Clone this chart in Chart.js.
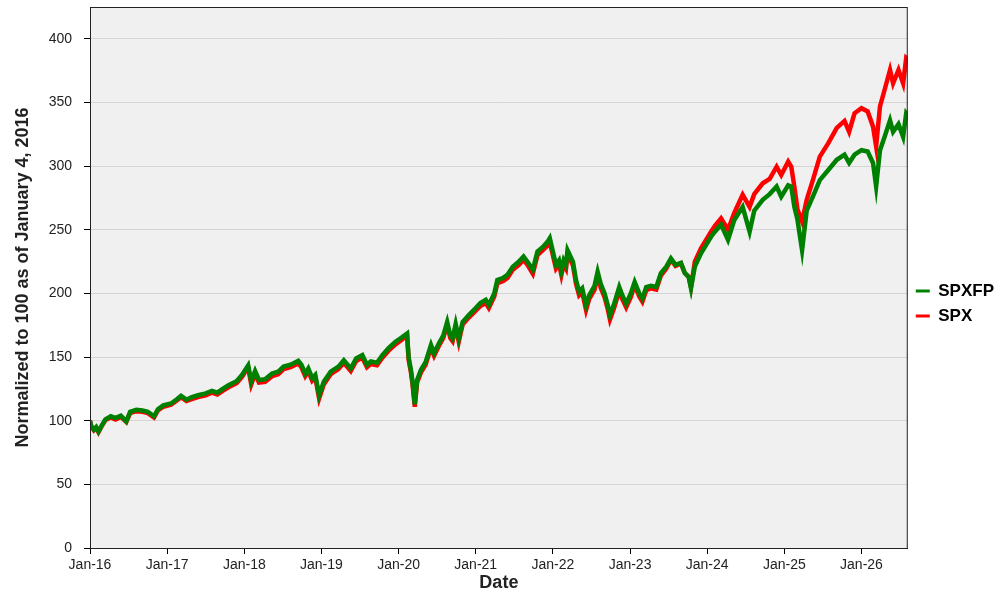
<!DOCTYPE html>
<html>
<head>
<meta charset="utf-8">
<script src="https://cdn.jsdelivr.net/npm/chart.js@4"></script>
<style>
  html, body { margin:0; padding:0; background:#fff; }
  #wrap { width:1000px; height:600px; }
</style>
</head>
<body>
<div id="wrap"><canvas id="chart" width="1000" height="600"></canvas></div>
<script>
// time in years since Jan 4, 2016
const yearsSince2016 = [
  0, 0.015, 0.05, 0.08, 0.11, 0.15, 0.20, 0.27, 0.33, 0.40, 0.47, 0.52, 0.60, 0.68, 0.75, 0.83, 0.88, 0.95,
  1.05, 1.13, 1.18, 1.25, 1.32, 1.40, 1.50, 1.58, 1.65, 1.72, 1.80, 1.90, 1.97,
  2.05, 2.09, 2.14, 2.19, 2.27, 2.36, 2.44, 2.51, 2.60, 2.70, 2.74, 2.79, 2.83, 2.88, 2.92, 2.97,
  3.03, 3.12, 3.22, 3.29, 3.38, 3.45, 3.53, 3.59, 3.64, 3.72, 3.79, 3.87, 3.96,
  4.03, 4.11, 4.13, 4.16, 4.18, 4.21, 4.24, 4.29, 4.35, 4.42, 4.46, 4.52, 4.58, 4.63, 4.67, 4.70, 4.74, 4.78, 4.83, 4.91,
  5.00, 5.06, 5.13, 5.17, 5.24, 5.28, 5.35, 5.41, 5.48, 5.56, 5.62, 5.68, 5.74, 5.80, 5.87, 5.93, 5.96,
  6.00, 6.04, 6.08, 6.11, 6.14, 6.17, 6.19, 6.26, 6.30, 6.34, 6.38, 6.43, 6.47, 6.54, 6.58, 6.62, 6.67, 6.71, 6.74, 6.79, 6.86, 6.90, 6.95,
  7.01, 7.06, 7.12, 7.16, 7.21, 7.27, 7.34, 7.40, 7.47, 7.53, 7.59, 7.66, 7.71, 7.76, 7.79, 7.84, 7.92,
  8.05, 8.10, 8.18, 8.27, 8.35, 8.46, 8.55, 8.61, 8.72, 8.81, 8.90, 8.96,
  9.05, 9.09, 9.13, 9.17, 9.23, 9.29, 9.37, 9.46, 9.57, 9.68, 9.78, 9.84, 9.91,
  10.00, 10.08, 10.15, 10.19, 10.24, 10.30, 10.37, 10.41, 10.48, 10.54, 10.58, 10.60
];

const spxfpValues = [
  100, 96, 93, 95, 91.5, 96, 101, 103.5, 102, 104, 99.5, 107, 108.5, 108, 107, 103.5, 109, 112,
  113.5, 117, 119.5, 116.5, 118.5, 120, 121.5, 123.5, 122, 125, 128, 131, 136,
  143.5, 131, 139, 132, 132.5, 137, 138.5, 142.5, 144, 147, 144, 137, 141, 133.5, 136, 120,
  130.5, 138.5, 142.5, 147.5, 141, 149, 151.5, 144, 146.5, 145.5, 151.5, 157, 162,
  165, 168.5, 150, 140, 131, 113, 132, 140, 146, 159.5, 153, 160.5, 167, 177.5, 167, 164.5, 176, 164.5, 177.5, 183,
  188.5, 192.5, 195, 191, 200, 210.5, 212, 214.5, 221, 225, 229, 224, 218.5, 233, 236.5, 240.5, 243.5,
  233, 222.5, 226, 217.5, 226, 222.5, 234, 225, 210.5, 201.5, 204, 190.5, 198.5, 206, 217, 207.5, 200, 191, 183, 191, 205, 198.5, 192,
  200, 209, 200, 196, 205, 206, 205, 216, 221, 227.5, 222.5, 224, 216, 213, 204, 221, 231.5,
  244.5, 248.5, 254, 242, 257.5, 268, 248.5, 265, 273.5, 278, 284, 276,
  285, 284, 268, 258, 234, 265, 276, 289, 297, 305, 309, 302.5, 309,
  312.5, 311.5, 302.5, 284, 312.5, 323, 336, 327, 333, 323, 341.5, 340
];

const spxValues = [
  100, 95.5, 92.5, 94.5, 91, 95.5, 100.5, 102.5, 101, 103, 99, 106, 107.5, 107, 106, 102.5, 108, 111,
  112.5, 116, 118.5, 115.5, 117, 118.5, 120, 122, 120.5, 123.5, 126.5, 129.5, 134.5,
  142, 128.5, 137, 130, 130.5, 135, 136.5, 140.5, 142, 145, 142, 135, 139, 131.5, 134, 117.5,
  128.5, 136.5, 140.5, 145.5, 139, 147, 149.5, 142, 144.5, 143.5, 149.5, 155, 160,
  163, 167, 148, 138, 129, 111, 130, 138, 144, 157.5, 151, 158.5, 165, 175.5, 165, 162.5, 174, 162, 175.5, 181,
  186.5, 190, 192.5, 188.5, 197.5, 208, 209.5, 212, 218.5, 222.5, 226.5, 221.5, 215.5, 230, 234, 237.5, 240,
  230, 219.5, 223, 214.5, 223, 219.5, 231, 222, 207.5, 198.5, 201, 187, 195.5, 203, 214, 204.5, 197, 188, 179.5, 188, 202, 195.5, 189,
  197, 206.5, 197.5, 193.5, 202.5, 204, 203, 214, 219.5, 226.5, 221.5, 223.5, 216, 213, 205, 225, 235.5,
  248.5, 253, 259, 250, 263, 277.5, 268, 278, 286.5, 290, 299.5, 293,
  303.5, 299.5, 284, 266, 256.5, 273.5, 289, 307.5, 318, 330, 335.5, 327, 341.5,
  345.5, 343, 331, 315.5, 347, 360, 375.5, 365, 375.5, 365, 385, 384
];

const tickLabels = ['Jan-16','Jan-17','Jan-18','Jan-19','Jan-20','Jan-21','Jan-22','Jan-23','Jan-24','Jan-25','Jan-26'];

const FONT = "'Liberation Sans', Arial, sans-serif";

// plot background + frame
const plotFrame = {
  id: 'plotFrame',
  beforeDraw(chart) {
    const {ctx, chartArea: a} = chart;
    ctx.save();
    ctx.fillStyle = '#f0f0f0';
    ctx.fillRect(a.left, a.top, a.right - a.left, a.bottom - a.top);
    ctx.restore();
  },
  afterDraw(chart) {
    const {ctx, chartArea: a} = chart;
    ctx.save();
    ctx.strokeStyle = '#222';
    ctx.lineWidth = 1;
    ctx.strokeRect(a.left + 0.5, a.top + 0.5, a.right - a.left - 1, a.bottom - a.top);
    ctx.restore();
  }
};

const toPoints = vals => yearsSince2016.map((x, i) => ({x, y: vals[i]}));

new Chart(document.getElementById('chart'), {
  type: 'line',
  data: {
    datasets: [
      { label: 'SPXFP', data: toPoints(spxfpValues), borderColor: '#008000', backgroundColor: '#008000', borderWidth: 4.5 },
      { label: 'SPX', data: toPoints(spxValues), borderColor: '#ff0000', backgroundColor: '#ff0000', borderWidth: 4.5 }
    ]
  },
  options: {
    responsive: false,
    animation: false,
    elements: { point: { radius: 0 }, line: { tension: 0, borderJoinStyle: 'miter' } },
    layout: { padding: { top: 7, right: -4, bottom: 0, left: 0 } },
    plugins: {
      tooltip: { enabled: false },
      legend: {
        position: 'right',
        labels: {
          usePointStyle: true,
          pointStyle: 'line',
          pointStyleWidth: 14,
          padding: 8,
          color: '#222',
          font: { family: FONT, size: 17, weight: 'bold' },
          generateLabels(chart) {
            return chart.data.datasets.map((d, i) => ({
              text: d.label, strokeStyle: d.borderColor, fillStyle: d.borderColor,
              lineWidth: 3, pointStyle: 'line', datasetIndex: i, hidden: false
            }));
          }
        }
      }
    },
    scales: {
      x: {
        type: 'linear',
        min: 0,
        max: 10.6,
        afterFit(scale) { scale.height = 52; },
        grid: { drawOnChartArea: false, tickLength: 6, tickColor: '#000' },
        border: { color: '#000', width: 1 },
        ticks: {
          stepSize: 1,
          includeBounds: false,
          autoSkip: false,
          maxRotation: 0,
          padding: 3,
          color: '#222',
          font: { family: FONT, size: 14 },
          callback: v => tickLabels[v] || ''
        },
        title: {
          display: true,
          text: 'Date',
          color: '#222',
          font: { family: FONT, size: 18, weight: 'bold' },
          padding: { top: 0, bottom: 6 }
        }
      },
      y: {
        min: 0,
        max: 425,
        afterFit(scale) {
          scale.width = 90;
          // labels never reach the top edge, so no extra room is needed
          scale.paddingTop = 0;
          scale.paddingBottom = 0;
        },
        grid: { color: '#d4d4d4', tickLength: 6, tickColor: '#000' },
        border: { color: '#000', width: 1 },
        ticks: {
          stepSize: 50,
          includeBounds: false,
          padding: 12,
          color: '#222',
          font: { family: FONT, size: 14 }
        },
        title: {
          display: true,
          text: 'Normalized to 100 as of January 4, 2016',
          color: '#222',
          font: { family: FONT, size: 18, weight: 'bold' },
          padding: { top: 12, bottom: 0 }
        }
      }
    }
  },
  plugins: [plotFrame]
});
</script>
</body>
</html>
